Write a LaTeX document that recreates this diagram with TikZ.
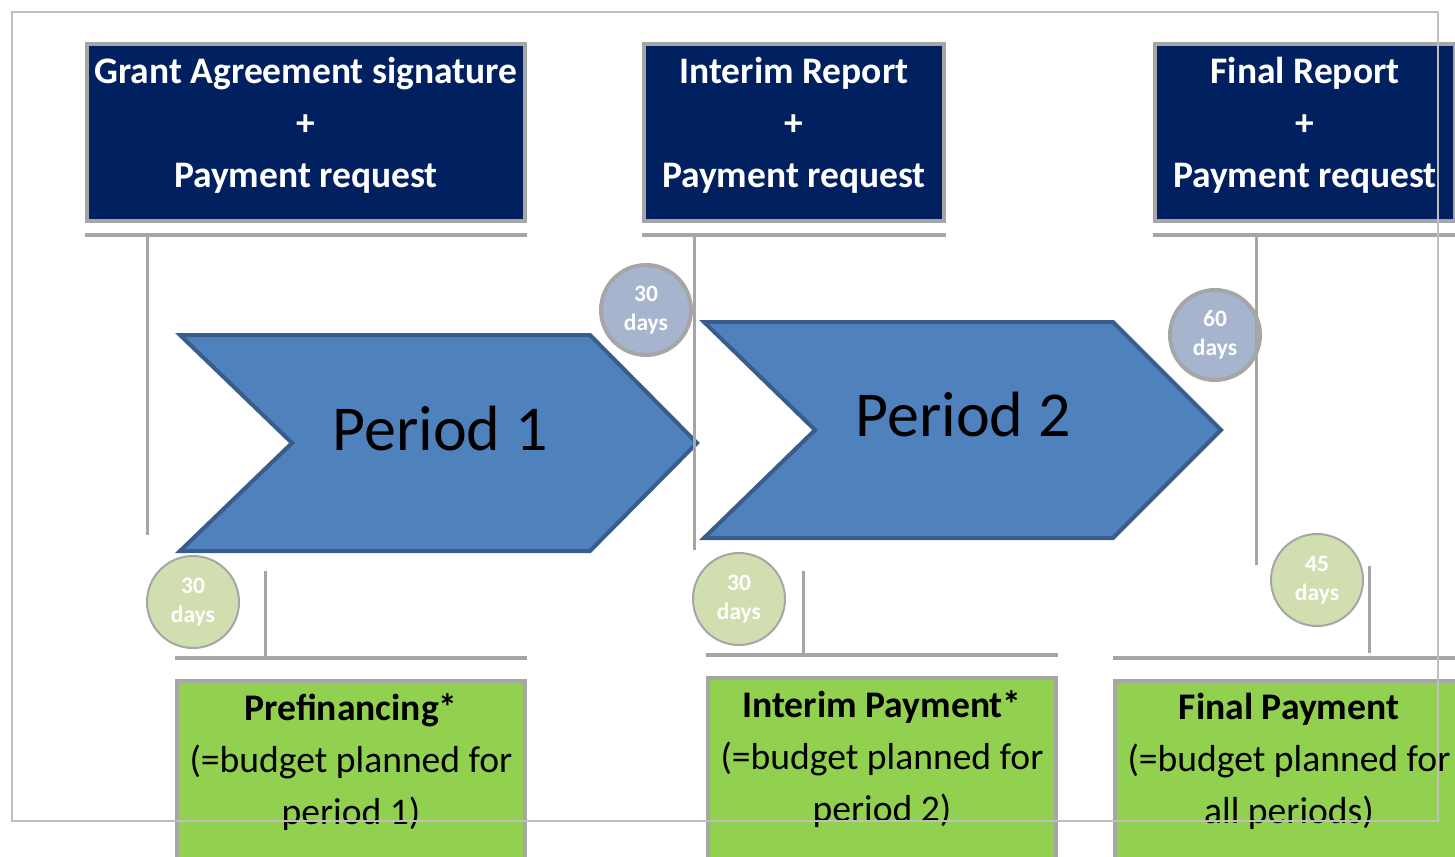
\documentclass[tikz,border=0pt]{standalone}
\usepackage{fontspec}
\setmainfont{Carlito}
\usetikzlibrary{positioning}
\definecolor{navy}{HTML}{002060}
\definecolor{boxgray}{HTML}{A6A6A6}
\definecolor{chevblue}{HTML}{4F81BD}
\definecolor{chevline}{HTML}{385D8A}
\definecolor{paygreen}{HTML}{92D050}
\definecolor{daysblue}{HTML}{A7B4CE}
\definecolor{daysgreen}{HTML}{D1DEB0}
\definecolor{framegray}{HTML}{BFBFBF}
\tikzset{%
  % Specifications for style of nodes:
	report/.style = {draw=boxgray, line width=4pt, fill=navy, text=white, align=center,
                     minimum height=177pt, inner sep=0pt,
                     execute at end node={\rule[-20pt]{0pt}{0pt}},
                     font=\bfseries\fontsize{37.5}{52}\selectfont},
	payment/.style = {draw=boxgray, line width=4pt, fill=paygreen, minimum width=348pt,
                      minimum height=200pt, inner sep=0pt},
	paytext/.style = {align=center, inner sep=0pt, text=black,
                      font=\fontsize{37.6}{52}\selectfont},
	days/.style = {circle, inner sep=0pt, align=center, text=white,
                   font=\bfseries\fontsize{23.5}{29}\selectfont},
	daysrep/.style = {days, draw=boxgray, line width=4pt, fill=daysblue, minimum size=90pt},
	dayspay/.style = {days, draw=boxgray, line width=2pt, fill=daysgreen, minimum size=92pt},
	chevron/.style = {fill=chevblue, draw=chevline, line width=4pt, line join=miter},
	period/.style = {inner sep=0pt, text=black, font=\fontsize{64}{70}\selectfont},
	limit/.style = {draw=boxgray, line width=3pt},
}
\begin{document}
\begin{tikzpicture}[x=1pt, y=-1pt]
  \useasboundingbox (0,0) rectangle (1455,856);
  \clip (0,0) rectangle (1455,856);
  % Reports and payment requests (top row)
  \node (ga) [report, minimum width=438pt] at (306,132.5) {Grant Agreement signature\\+\\Payment request};
  \node (ir) [report, minimum width=300pt] at (794,132.5) {Interim Report\\+\\Payment request};
  \node (fr) [report, minimum width=300pt] at (1305,132.5) {Final Report\\+\\Payment request};

  % Payments (bottom row)
  \node (pre) [payment] at (351,781) {};
  \node (ip) [payment] at (882,778) {};
  \node (fp) [payment] at (1289,781) {};
  \node (pretext) [paytext, below=14pt of pre.north] {\textbf{Prefinancing*}\\(=budget planned for\\period 1)};
  \node (iptext) [paytext, below=14pt of ip.north] {\textbf{Interim Payment*}\\(=budget planned for\\period 2)};
  \node (fptext) [paytext, below=14pt of fp.north] {\textbf{Final Payment}\\(=budget planned for\\all periods)};

  % The two periods
  \draw [chevron] (180,335) -- (590,335) -- (697,443) -- (590,551) -- (180,551) -- (292,443) -- cycle;
  \draw [chevron] (704,322) -- (1113,322) -- (1221,430) -- (1113,538) -- (704,538) -- (815,430) -- cycle;
  \node (period1) [period] at (440,428) {Period 1};
  \node (period2) [period] at (963,414) {Period 2};

  % Deadlines
  \node (d1) [daysrep] at (646,310) {30\\days};
  \node (d2) [daysrep] at (1215,335) {60\\days};
  \node (d3) [dayspay] at (193,602) {30\\days};
  \node (d4) [dayspay] at (739,599) {30\\days};
  \node (d5) [dayspay] at (1317,580) {45\\days};

  % Time marks under the reports
  \draw [limit, line width=4pt] ([yshift=-12pt]ga.south west) -- ([yshift=-12pt]ga.south east);
  \draw [limit, line width=4pt] ([yshift=-12pt]ir.south west) -- ([yshift=-12pt]ir.south east);
  \draw [limit, line width=4pt] ([yshift=-12pt]fr.south west) -- ([yshift=-12pt]fr.south east);
  \draw [limit] (147,236) -- (147,535);
  \draw [limit] (694,236) -- (694,550);
  \draw [limit] (1256,236) -- (1256,565);

  % Time marks above the payments
  \draw [limit, line width=4pt] ([yshift=21pt]pre.north west) -- ([yshift=21pt]pre.north east);
  \draw [limit, line width=4pt] ([yshift=21pt]ip.north west) -- ([yshift=21pt]ip.north east);
  \draw [limit, line width=4pt] ([yshift=21pt]fp.north west) -- ([yshift=21pt]fp.north east);
  \draw [limit] (265,571) -- (265,658);
  \draw [limit] (803,571) -- (803,655);
  \draw [limit] (1369,566) -- (1369,653);

  % frame
  \draw [framegray, line width=2pt] (12,12) rectangle (1438,821);
\end{tikzpicture}
\end{document}
